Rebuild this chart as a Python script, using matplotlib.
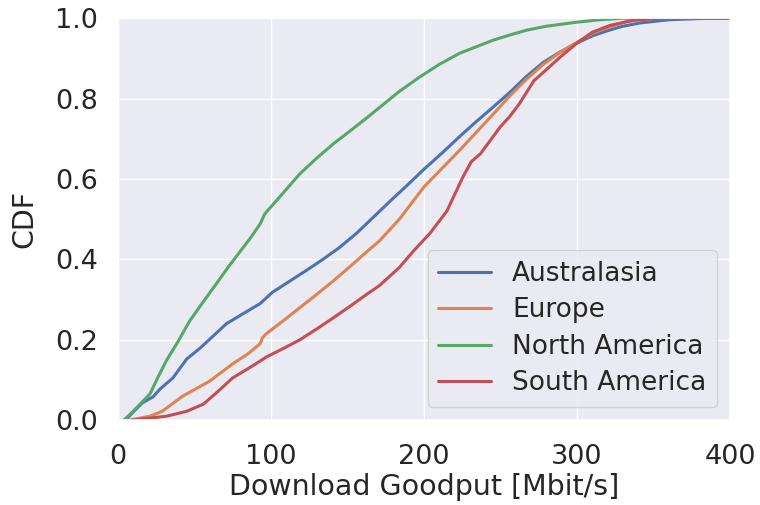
import matplotlib.pyplot as plt
import seaborn as sns

sns.set_theme(style="darkgrid")
plt.rcParams['font.family'] = ['DejaVu Sans']

# goodput [Mbit/s] vs cumulative share, per region
aus_x = [5, 10, 16, 23, 27.5, 36, 45, 54, 71, 85, 93, 101, 112, 123, 134, 145, 156, 167, 178, 189,
         200, 212, 223.5, 234, 245, 256, 267, 278, 289, 300, 310, 321, 330, 341, 360, 380, 400]
aus_y = [0.0, 0.02, 0.043, 0.058, 0.077, 0.105, 0.152, 0.18, 0.24, 0.272, 0.29, 0.318, 0.345, 0.372, 0.4, 0.43, 0.465, 0.505, 0.545, 0.584,
         0.624, 0.665, 0.706, 0.742, 0.778, 0.815, 0.855, 0.89, 0.916, 0.938, 0.956, 0.97, 0.98, 0.988, 0.996, 0.999, 1.0]

eur_x = [8, 21, 29, 42.5, 60, 75, 85, 93, 94.5, 97, 108, 119, 130, 141, 152, 163, 171, 184, 200, 212,
         223.5, 234, 245, 256, 267, 278, 289, 300, 310, 321, 333, 345, 355, 400]
eur_y = [0.0, 0.01, 0.022, 0.06, 0.097, 0.14, 0.165, 0.19, 0.205, 0.215, 0.247, 0.28, 0.313, 0.347, 0.383, 0.42, 0.446, 0.5, 0.58, 0.627,
         0.672, 0.715, 0.76, 0.806, 0.848, 0.885, 0.915, 0.94, 0.962, 0.978, 0.992, 0.998, 1.0, 1.0]

nam_x = [4, 10, 21, 26, 32, 38.5, 47, 55, 64.5, 72, 80, 87, 93, 96, 108, 119, 130, 141, 152, 163,
         174, 184, 197, 210, 223.5, 235, 245, 256, 267, 280, 300, 315, 330, 400]
nam_y = [0.0, 0.022, 0.065, 0.105, 0.15, 0.19, 0.247, 0.29, 0.34, 0.38, 0.42, 0.455, 0.488, 0.513, 0.565, 0.613, 0.652, 0.688, 0.72, 0.753,
         0.787, 0.818, 0.853, 0.885, 0.913, 0.93, 0.945, 0.958, 0.97, 0.98, 0.99, 0.996, 1.0, 1.0]

sam_x = [8, 14, 32, 45, 56, 65, 75, 85, 93, 97, 108, 119, 130, 141, 152, 163, 171, 184, 193, 204,
         215, 225.5, 231, 237, 250, 256, 262, 267, 272, 278, 289, 300, 310, 321.5, 337, 355, 400]
sam_y = [0.0, 0.002, 0.01, 0.022, 0.04, 0.07, 0.105, 0.128, 0.147, 0.157, 0.178, 0.2, 0.227, 0.255, 0.284, 0.314, 0.335, 0.38, 0.42, 0.465,
         0.52, 0.605, 0.643, 0.663, 0.73, 0.755, 0.785, 0.815, 0.845, 0.865, 0.903, 0.938, 0.965, 0.982, 0.995, 1.0, 1.0]

regions = ["Australasia", "Europe", "North America", "South America"]
pal = sns.color_palette("deep")

fig = plt.figure(figsize=(7.6, 5.05), dpi=100)
ax = fig.add_axes([0.155, 0.168, 0.8055, 0.796])

for i, (xs, ys) in enumerate([(aus_x, aus_y), (eur_x, eur_y), (nam_x, nam_y), (sam_x, sam_y)]):
    ax.plot(xs, ys, color=pal[i], lw=2.2, label=regions[i], solid_joinstyle="round")

ax.set_xlim(0, 400)
ax.set_ylim(0, 1)
ax.set_xticks([0, 100, 200, 300, 400])
ax.set_yticks([0, 0.2, 0.4, 0.6, 0.8, 1.0])
ax.tick_params(labelsize=19.5)
ax.tick_params(axis="x", pad=11)
ax.tick_params(axis="y", pad=8)
ax.set_xlabel("Download Goodput [Mbit/s]", fontsize=20.5, labelpad=2)
ax.set_ylabel("CDF", fontsize=20.5, labelpad=12)
ax.legend(loc="lower right", fontsize=19, handlelength=2.0, labelspacing=0.4)

fig.savefig("out.png")
